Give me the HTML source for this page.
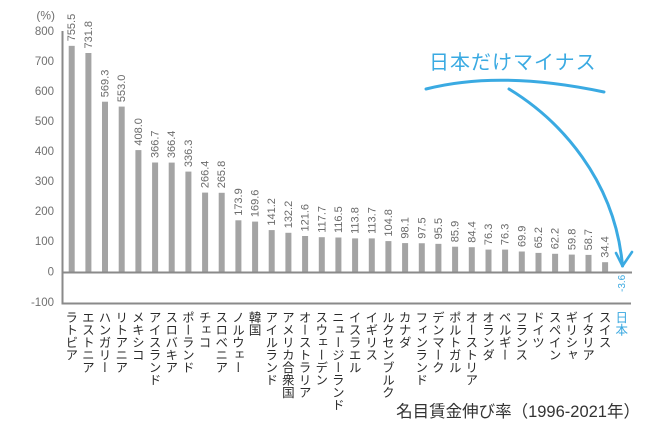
<!DOCTYPE html>
<html><head><meta charset="utf-8"><style>
html,body{margin:0;padding:0;background:#fff;}
body{width:660px;height:434px;position:relative;overflow:hidden;font-family:"Liberation Sans","Noto Sans CJK JP",sans-serif;}
.c{position:absolute;top:311px;width:13px;font-size:12.5px;line-height:13px;writing-mode:vertical-rl;font-family:"Noto Sans CJK JP",sans-serif;color:#2a2a2a;white-space:nowrap;}
svg{position:absolute;left:0;top:0;}
</style></head><body>
<svg width="660" height="434" viewBox="0 0 660 434" xmlns="http://www.w3.org/2000/svg">
<g font-family="Liberation Sans, sans-serif" font-size="11.5" fill="#707070" text-anchor="end" dominant-baseline="central">
<text x="54" y="32">800</text>
<text x="54" y="62">700</text>
<text x="54" y="92">600</text>
<text x="54" y="122">500</text>
<text x="54" y="152">400</text>
<text x="54" y="182">300</text>
<text x="54" y="212">200</text>
<text x="54" y="242">100</text>
<text x="54" y="272.5">0</text>
<text x="54" y="303">-100</text>
<text x="55" y="15.5" font-size="12">(%)</text>
</g>
<g fill="#a4a4a4">
<rect x="68.7" y="45.85" width="6" height="226.65"/>
<rect x="85.4" y="53.0" width="6" height="219.5"/>
<rect x="102.0" y="101.7" width="6" height="170.8"/>
<rect x="118.7" y="106.6" width="6" height="165.9"/>
<rect x="135.4" y="150.1" width="6" height="122.4"/>
<rect x="152.1" y="162.5" width="6" height="110.0"/>
<rect x="168.7" y="162.6" width="6" height="109.9"/>
<rect x="185.4" y="171.6" width="6" height="100.9"/>
<rect x="202.1" y="192.6" width="6" height="79.9"/>
<rect x="218.7" y="192.8" width="6" height="79.7"/>
<rect x="235.4" y="220.3" width="6" height="52.2"/>
<rect x="252.1" y="221.6" width="6" height="50.9"/>
<rect x="268.7" y="230.1" width="6" height="42.4"/>
<rect x="285.4" y="232.8" width="6" height="39.7"/>
<rect x="302.1" y="236.0" width="6" height="36.5"/>
<rect x="318.8" y="237.2" width="6" height="35.3"/>
<rect x="335.4" y="237.5" width="6" height="35.0"/>
<rect x="352.1" y="238.4" width="6" height="34.1"/>
<rect x="368.8" y="238.4" width="6" height="34.1"/>
<rect x="385.4" y="241.1" width="6" height="31.4"/>
<rect x="402.1" y="243.1" width="6" height="29.4"/>
<rect x="418.8" y="243.25" width="6" height="29.25"/>
<rect x="435.4" y="243.85" width="6" height="28.65"/>
<rect x="452.1" y="246.7" width="6" height="25.8"/>
<rect x="468.8" y="247.2" width="6" height="25.3"/>
<rect x="485.5" y="249.6" width="6" height="22.9"/>
<rect x="502.1" y="249.6" width="6" height="22.9"/>
<rect x="518.8" y="251.5" width="6" height="21.0"/>
<rect x="535.5" y="252.9" width="6" height="19.6"/>
<rect x="552.1" y="253.8" width="6" height="18.7"/>
<rect x="568.8" y="254.6" width="6" height="17.9"/>
<rect x="585.5" y="254.9" width="6" height="17.6"/>
<rect x="602.1" y="262.2" width="6" height="10.3"/>
</g>
<g stroke="#8a8a8a" stroke-width="2" fill="none">
<line x1="62.5" y1="31" x2="62.5" y2="304.5"/>
<line x1="62" y1="272.5" x2="632" y2="272.5"/>
<line x1="62" y1="303.5" x2="631" y2="303.5"/>
</g>
<g font-family="Liberation Sans, sans-serif" font-size="11" fill="#6a6a6a" dominant-baseline="central">
<text transform="translate(72.2,41.3) rotate(-90)">755.5</text>
<text transform="translate(88.9,48.5) rotate(-90)">731.8</text>
<text transform="translate(105.5,97.2) rotate(-90)">569.3</text>
<text transform="translate(122.2,102.1) rotate(-90)">553.0</text>
<text transform="translate(138.9,145.6) rotate(-90)">408.0</text>
<text transform="translate(155.6,158.0) rotate(-90)">366.7</text>
<text transform="translate(172.2,158.1) rotate(-90)">366.4</text>
<text transform="translate(188.9,167.1) rotate(-90)">336.3</text>
<text transform="translate(205.6,188.1) rotate(-90)">266.4</text>
<text transform="translate(222.2,188.3) rotate(-90)">265.8</text>
<text transform="translate(238.9,215.8) rotate(-90)">173.9</text>
<text transform="translate(255.6,217.1) rotate(-90)">169.6</text>
<text transform="translate(272.2,225.6) rotate(-90)">141.2</text>
<text transform="translate(288.9,228.3) rotate(-90)">132.2</text>
<text transform="translate(305.6,231.5) rotate(-90)">121.6</text>
<text transform="translate(322.3,232.7) rotate(-90)">117.7</text>
<text transform="translate(338.9,233.0) rotate(-90)">116.5</text>
<text transform="translate(355.6,233.9) rotate(-90)">113.8</text>
<text transform="translate(372.3,233.9) rotate(-90)">113.7</text>
<text transform="translate(388.9,236.6) rotate(-90)">104.8</text>
<text transform="translate(405.6,238.6) rotate(-90)">98.1</text>
<text transform="translate(422.3,238.75) rotate(-90)">97.5</text>
<text transform="translate(438.9,239.35) rotate(-90)">95.5</text>
<text transform="translate(455.6,242.2) rotate(-90)">85.9</text>
<text transform="translate(472.3,242.7) rotate(-90)">84.4</text>
<text transform="translate(489.0,245.1) rotate(-90)">76.3</text>
<text transform="translate(505.6,245.1) rotate(-90)">76.3</text>
<text transform="translate(522.3,247.0) rotate(-90)">69.9</text>
<text transform="translate(539.0,248.4) rotate(-90)">65.2</text>
<text transform="translate(555.6,249.3) rotate(-90)">62.2</text>
<text transform="translate(572.3,250.1) rotate(-90)">59.8</text>
<text transform="translate(589.0,250.4) rotate(-90)">58.7</text>
<text transform="translate(605.6,257.7) rotate(-90)">34.4</text>
</g>
<text transform="translate(622.3,292) rotate(-90)" font-family="Liberation Sans, sans-serif" font-size="10" fill="#3aa8e0" dominant-baseline="central">-3.6</text>
<g stroke="#3aaae2" fill="none" stroke-linecap="round" stroke-linejoin="round">
<path d="M426,89 Q500,70 604,92" stroke-width="3"/>
<path d="M509,89 C560,120 615,180 622.5,266" stroke-width="3"/>
<path d="M616,253 L622.5,266 L632,252" stroke-width="2.6"/>
</g>
</svg>
<div style="position:absolute;left:429px;top:48px;font-size:20px;line-height:26px;letter-spacing:1px;color:#3aaae2;font-family:'Noto Sans CJK JP',sans-serif;white-space:nowrap;">日本だけマイナス</div>
<div class="c" style="left:65.2px">ラトビア</div>
<div class="c" style="left:81.9px">エストニア</div>
<div class="c" style="left:98.5px">ハンガリー</div>
<div class="c" style="left:115.2px">リトアニア</div>
<div class="c" style="left:131.9px">メキシコ</div>
<div class="c" style="left:148.6px">アイスランド</div>
<div class="c" style="left:165.2px">スロバキア</div>
<div class="c" style="left:181.9px">ポーランド</div>
<div class="c" style="left:198.6px">チェコ</div>
<div class="c" style="left:215.2px">スロベニア</div>
<div class="c" style="left:231.9px">ノルウェー</div>
<div class="c" style="left:248.6px">韓国</div>
<div class="c" style="left:265.2px">アイルランド</div>
<div class="c" style="left:281.9px">アメリカ合衆国</div>
<div class="c" style="left:298.6px">オーストラリア</div>
<div class="c" style="left:315.3px">スウェーデン</div>
<div class="c" style="left:331.9px">ニュージーランド</div>
<div class="c" style="left:348.6px">イスラエル</div>
<div class="c" style="left:365.3px">イギリス</div>
<div class="c" style="left:381.9px">ルクセンブルク</div>
<div class="c" style="left:398.6px">カナダ</div>
<div class="c" style="left:415.3px">フィンランド</div>
<div class="c" style="left:431.9px">デンマーク</div>
<div class="c" style="left:448.6px">ポルトガル</div>
<div class="c" style="left:465.3px">オーストリア</div>
<div class="c" style="left:482.0px">オランダ</div>
<div class="c" style="left:498.6px">ベルギー</div>
<div class="c" style="left:515.3px">フランス</div>
<div class="c" style="left:532.0px">ドイツ</div>
<div class="c" style="left:548.6px">スペイン</div>
<div class="c" style="left:565.3px">ギリシャ</div>
<div class="c" style="left:582.0px">イタリア</div>
<div class="c" style="left:598.6px">スイス</div>
<div class="c" style="left:615.3px;color:#3aa8e0">日本</div>
<div style="position:absolute;right:20px;top:401px;font-size:16.5px;line-height:22px;color:#333;white-space:nowrap;font-family:'Liberation Sans','Noto Sans CJK JP',sans-serif;">名目賃金伸び率（1996-2021年）</div>
</body></html>
